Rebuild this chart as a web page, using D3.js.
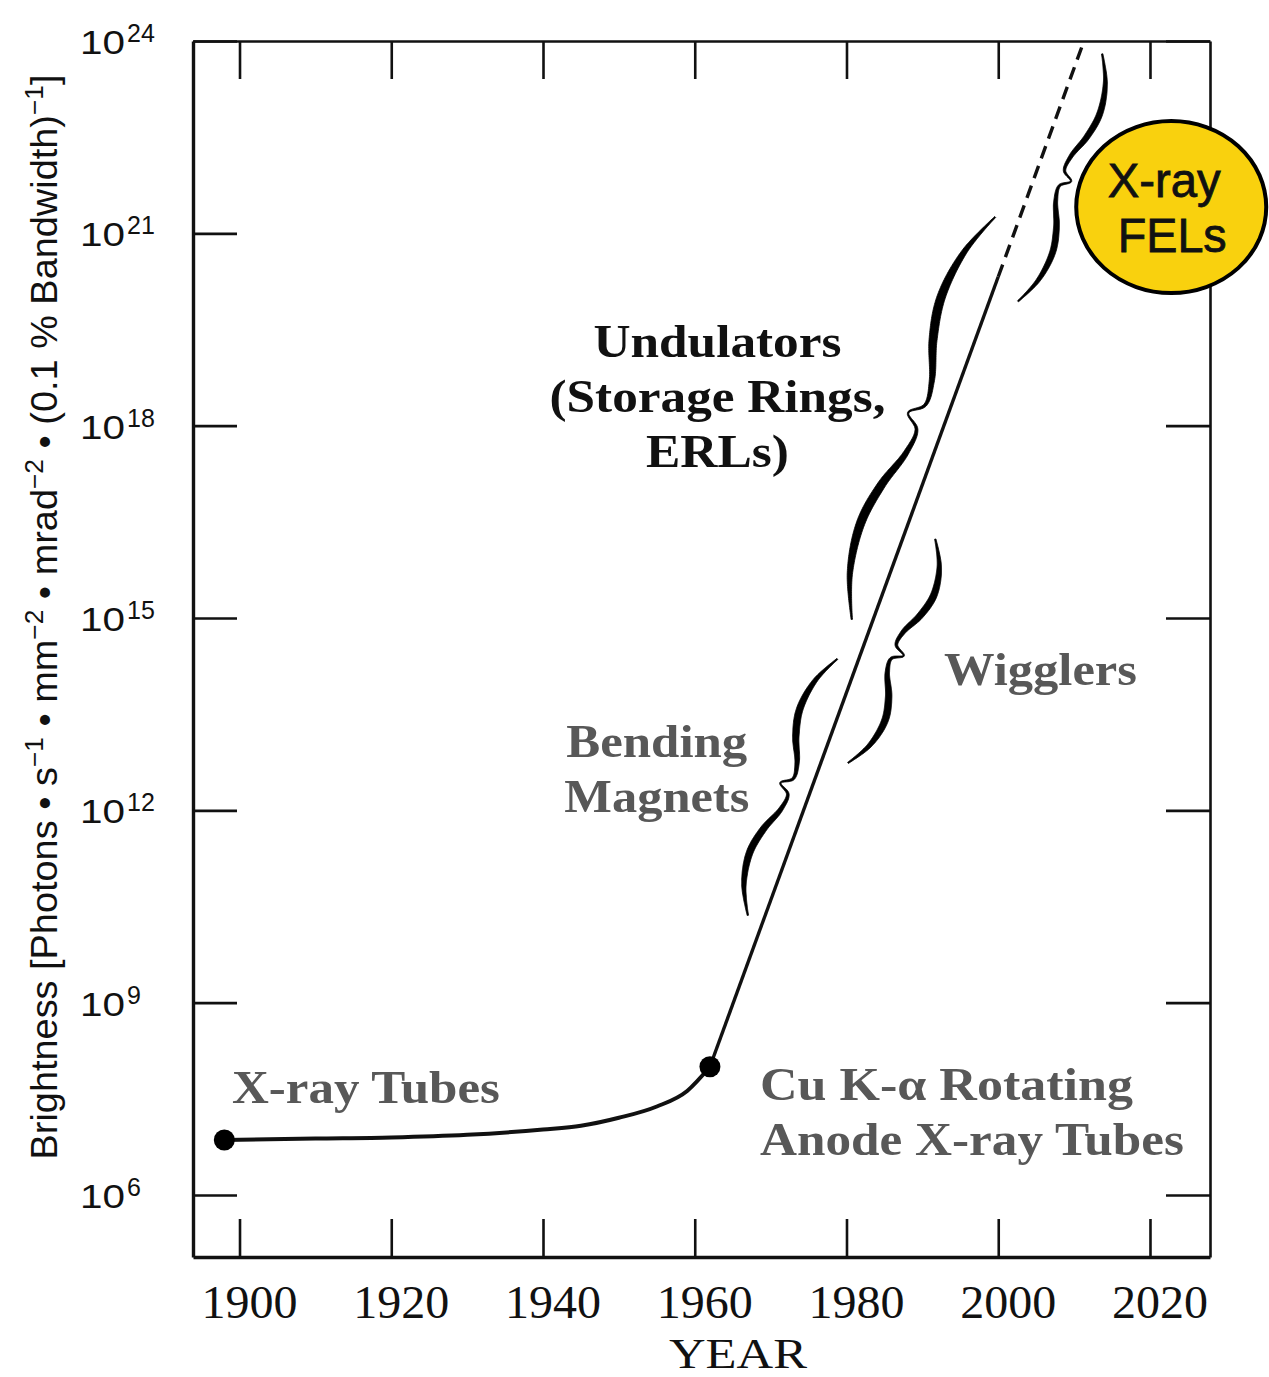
<!DOCTYPE html>
<html>
<head>
<meta charset="utf-8">
<script src="https://cdn.jsdelivr.net/npm/d3@7"></script>
<style>
  body { margin: 0; background: #fff; }
  svg { display: block; }
</style>
</head>
<body>
<svg id="chart" width="1269" height="1377"></svg>
<script>
// ---- Data: peak brightness of X-ray sources through the years ----
const xTickYears = [1900, 1920, 1940, 1960, 1980, 2000, 2020];
const yTickExponents = [6, 9, 12, 15, 18, 21, 24];

// Conventional X-ray tubes up to rotating-anode tubes
const tubeYears = [1898, 1910, 1920, 1930, 1940, 1945, 1950, 1955, 1959, 1962];
const tubeBrightness = [7.2e6, 7.6e6, 7.9e6, 8.7e6, 1.05e7, 1.2e7, 1.6e7, 2.4e7, 4.2e7, 1e8];

// Synchrotron-era growth (solid) and its extrapolation (dashed)
const trendYears = [1962, 2000];
const trendBrightness = [1e8, 2.1e20];
const extrapYears = [2000, 2011.3];
const extrapBrightness = [2.1e20, 1e24];

// Milestone markers
const markerYears = [1898, 1962];
const markerBrightness = [7.2e6, 1e8];

// Source-class braces: from (start) to (end), tip pointing to one side
const braceNames = ["Bending Magnets", "Wigglers", "Undulators", "X-ray FELs"];
const braceStartYears = [1967.0, 1980.2, 1980.7, 2002.6];
const braceStartBrightness = [2.3e10, 5.5e12, 9.5e14, 8.7e19];
const braceEndYears = [1978.8, 1991.7, 1999.6, 2013.7];
const braceEndBrightness = [2.3e14, 1.7e16, 1.8e21, 6.3e23];
const braceSides = ["left", "right", "left", "right"];

// ---- Layout and styling ----
const W = 1269, H = 1377;
const frame = { left: 193, right: 1210, top: 41, bottom: 1257 };
const braceWidths = [19, 19, 24, 17];
const grey = "#585858";
const serif = "'Liberation Serif', 'Times New Roman', serif";
const sans = "'Liberation Sans', Arial, sans-serif";

// Label placements (year, brightness) with target widths in px
const labels = [
  { lines: ["X-ray Tubes"], year: 1899.0, b: [10 ** 7.435], anchor: "start", widths: [268], color: grey },
  { lines: ["Cu K-\u03b1 Rotating", "Anode X-ray Tubes"], year: 1968.6, b: [10 ** 7.48, 10 ** 6.62], anchor: "start", widths: [373, 424], color: grey },
  { lines: ["Bending", "Magnets"], year: 1955.0, b: [10 ** 12.83, 10 ** 11.97], anchor: "middle", widths: [181, 185], color: grey },
  { lines: ["Wigglers"], year: 1992.85, b: [10 ** 13.955], anchor: "start", widths: [193], color: grey },
  { lines: ["Undulators", "(Storage Rings,", "ERLs)"], year: 1963.0, b: [10 ** 19.07, 10 ** 18.21, 10 ** 17.355], anchor: "middle", widths: [248, 336, 143], color: "#111" }
];

const svg = d3.select("#chart");

const x = d3.scaleLinear().domain([1893.87, 2027.91]).range([frame.left, frame.right]);
const y = d3.scaleLog().domain([10 ** 5.033, 1e24]).range([frame.bottom, frame.top]);
const yTicks = yTickExponents.map(e => 10 ** e);

// ---- Axes: frame with inward ticks on all four sides ----
function styleAxis(g, width) {
  g.selectAll("path.domain").attr("stroke", "#111").attr("stroke-width", width);
  g.selectAll(".tick line").attr("stroke", "#111").attr("stroke-width", 2.6);
  g.selectAll(".tick text").remove();
}
svg.append("g").attr("transform", `translate(${frame.left},0)`)
  .call(d3.axisLeft(y).tickValues(yTicks).tickSize(-44).tickSizeOuter(0).tickFormat(""))
  .call(g => styleAxis(g, 3.4));
svg.append("g").attr("transform", `translate(${frame.right},0)`)
  .call(d3.axisRight(y).tickValues(yTicks).tickSize(-44).tickSizeOuter(0).tickFormat(""))
  .call(g => styleAxis(g, 2.6));
svg.append("g").attr("transform", `translate(0,${frame.bottom})`)
  .call(d3.axisBottom(x).tickValues(xTickYears).tickSize(-38).tickSizeOuter(0).tickFormat(""))
  .call(g => styleAxis(g, 3.4));
svg.append("g").attr("transform", `translate(0,${frame.top})`)
  .call(d3.axisTop(x).tickValues(xTickYears).tickSize(-38).tickSizeOuter(0).tickFormat(""))
  .call(g => styleAxis(g, 2.6));

// x tick labels
svg.append("g").selectAll("text").data(xTickYears).join("text")
  .attr("x", d => x(d) + 10).attr("y", 1318)
  .attr("text-anchor", "middle")
  .attr("font-family", serif).attr("font-size", 46).attr("fill", "#111")
  .attr("textLength", 96).attr("lengthAdjust", "spacingAndGlyphs")
  .text(d => d);

svg.append("text").attr("x", 738).attr("y", 1368).attr("text-anchor", "middle")
  .attr("font-family", serif).attr("font-size", 43).attr("fill", "#111")
  .attr("textLength", 138).attr("lengthAdjust", "spacingAndGlyphs")
  .text("YEAR");

// y tick labels as 10 with superscript exponent
const yLab = svg.append("g").selectAll("g").data(yTickExponents).join("g");
yLab.append("text")
  .attr("x", 125).attr("y", d => y(10 ** d) + 13)
  .attr("text-anchor", "end")
  .attr("font-family", sans).attr("font-size", 34).attr("fill", "#111")
  .attr("textLength", 45).attr("lengthAdjust", "spacingAndGlyphs")
  .text("10");
yLab.append("text")
  .attr("x", 127).attr("y", d => y(10 ** d) + 1)
  .attr("text-anchor", "start")
  .attr("font-family", sans).attr("font-size", 25).attr("fill", "#111")
  .text(d => d);

// y axis title
const yTitle = svg.append("text")
  .attr("transform", "translate(57,617) rotate(-90)")
  .attr("text-anchor", "middle")
  .attr("font-family", sans).attr("font-size", 36).attr("fill", "#111");
const titleParts = [
  ["Brightness  [Photons \u2022 s", 0], ["\u22121", 1], [" \u2022 mm", 0], ["\u22122", 1],
  [" \u2022 mrad", 0], ["\u22122", 1], [" \u2022 (0.1 % Bandwidth)", 0], ["\u22121", 1], ["]", 0]
];
let prevSup = 0;
titleParts.forEach(([t, sup]) => {
  const shift = sup && !prevSup ? -14 : (!sup && prevSup ? 14 : 0);
  yTitle.append("tspan").attr("dy", shift).attr("font-size", sup ? 25 : 36).text(t);
  prevSup = sup;
});
// fit the title to its span along the axis
yTitle.attr("textLength", 1085).attr("lengthAdjust", "spacingAndGlyphs");

// ---- Brightness curves ----
const tubeData = tubeYears.map((yr, i) => [yr, tubeBrightness[i]]);
const trendData = trendYears.map((yr, i) => [yr, trendBrightness[i]]);
const extrapData = extrapYears.map((yr, i) => [yr, extrapBrightness[i]]);

const lineMono = d3.line().x(d => x(d[0])).y(d => y(d[1])).curve(d3.curveMonotoneX);
const lineStraight = d3.line().x(d => x(d[0])).y(d => y(d[1]));

svg.append("path").attr("d", lineMono(tubeData))
  .attr("fill", "none").attr("stroke", "#111").attr("stroke-width", 4);
svg.append("path").attr("d", lineStraight(trendData))
  .attr("fill", "none").attr("stroke", "#111").attr("stroke-width", 3.4);
svg.append("path").attr("d", lineStraight(extrapData))
  .attr("fill", "none").attr("stroke", "#111").attr("stroke-width", 3.4)
  .attr("stroke-dasharray", "13,8");

svg.append("g").selectAll("circle").data(markerYears).join("circle")
  .attr("cx", d => x(d)).attr("cy", (d, i) => y(markerBrightness[i]))
  .attr("r", 10.5).attr("fill", "#000");

// ---- Calligraphic braces around the trend line ----
const braceProfile = [[0, 0], [0.1, 0.72], [0.22, 1], [0.32, 0.72], [0.41, 0.2], [0.47, 0.12],
  [0.5, 0.68], [0.53, 0.12], [0.59, 0.2], [0.68, 0.72], [0.78, 1], [0.9, 0.72], [1, 0]];

function bracePolygon(A, B, side, w) {
  const dx = B[0] - A[0], dy = B[1] - A[1], L = Math.hypot(dx, dy);
  const ux = dx / L, uy = dy / L;
  const nx = side === "left" ? uy : -uy, ny = side === "left" ? -ux : ux;
  const pts = braceProfile.map(([t, v]) => [A[0] + ux * t * L + nx * v * w, A[1] + uy * t * L + ny * v * w]);
  const tmp = svg.append("path")
    .attr("d", d3.line().curve(d3.curveCatmullRom.alpha(0.5))(pts)).attr("fill", "none");
  const node = tmp.node(), total = node.getTotalLength();
  const N = 260, samples = [];
  for (let i = 0; i <= N; i++) {
    const p = node.getPointAtLength(total * i / N);
    samples.push([p.x, p.y]);
  }
  tmp.remove();
  const sideA = [], sideB = [];
  const thMax = 0.36 * w;
  samples.forEach((p, i) => {
    const a = samples[Math.max(0, i - 2)], b = samples[Math.min(N, i + 2)];
    let tx = b[0] - a[0], ty = b[1] - a[1];
    const tl = Math.hypot(tx, ty) || 1; tx /= tl; ty /= tl;
    const s = i / N, h = s < 0.5 ? s * 2 : (s - 0.5) * 2;
    const th = 1.4 + (thMax - 1.4) * Math.pow(Math.sin(Math.PI * h), 1.2);
    sideA.push([p[0] - ty * th / 2, p[1] + tx * th / 2]);
    sideB.push([p[0] + ty * th / 2, p[1] - tx * th / 2]);
  });
  return sideA.concat(sideB.reverse());
}

braceNames.forEach((name, i) => {
  const A = [x(braceStartYears[i]), y(braceStartBrightness[i])];
  const B = [x(braceEndYears[i]), y(braceEndBrightness[i])];
  const poly = bracePolygon(A, B, braceSides[i], braceWidths[i]);
  svg.append("path").attr("class", "brace")
    .attr("d", "M" + poly.map(p => p[0].toFixed(2) + "," + p[1].toFixed(2)).join("L") + "Z")
    .attr("fill", "#000").attr("stroke", "#000").attr("stroke-width", 0.8)
    .append("title").text(name);
});

// ---- Source-class labels ----
labels.forEach(lab => {
  lab.lines.forEach((t, j) => {
    svg.append("text")
      .attr("x", x(lab.year)).attr("y", y(lab.b[j]))
      .attr("text-anchor", lab.anchor)
      .attr("font-family", serif).attr("font-weight", "bold").attr("font-size", 46)
      .attr("fill", lab.color)
      .attr("textLength", lab.widths[j]).attr("lengthAdjust", "spacingAndGlyphs")
      .text(t);
  });
});

// X-ray FEL badge
const felX = 2022.8, felB = 10 ** 21.41;
svg.append("ellipse")
  .attr("cx", x(felX)).attr("cy", y(felB)).attr("rx", 95).attr("ry", 86)
  .attr("fill", "#F9D10E").attr("stroke", "#000").attr("stroke-width", 4);
[["X-ray", 10 ** 21.57, 113, -7], ["FELs", 10 ** 20.71, 109, 1]].forEach(([t, b, w, dx]) => {
  svg.append("text")
    .attr("x", x(felX) + dx).attr("y", y(b))
    .attr("text-anchor", "middle")
    .attr("font-family", sans).attr("font-size", 48).attr("fill", "#111")
    .attr("stroke", "#111").attr("stroke-width", 0.8)
    .attr("textLength", w).attr("lengthAdjust", "spacingAndGlyphs")
    .text(t);
});
</script>
</body>
</html>
